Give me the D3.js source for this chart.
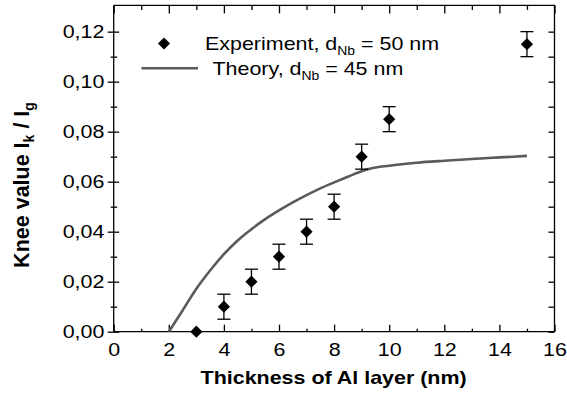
<!DOCTYPE html>
<html>
<head>
<meta charset="utf-8">
<script src="https://cdn.jsdelivr.net/npm/d3@7"></script>
<style>
    body { margin: 0; background: #fff; }
    svg { display: block; font-family: "Liberation Sans", Arial, sans-serif; }
</style>
</head>
<body>
<div id="chart"></div>
<script>
// experiment points (d_Nb = 50 nm)
const expX = [3, 4, 5, 6, 7, 8, 9, 10, 15];
const expY = [0, 0.01, 0.02, 0.03, 0.04, 0.05, 0.07, 0.085, 0.115];
const expErr = [0, 0.005, 0.005, 0.005, 0.005, 0.005, 0.005, 0.005, 0.005];

// theory curve (d_Nb = 45 nm)
const theoryX = [2, 2.5, 3, 3.5, 4, 4.5, 5, 5.5, 6, 6.5, 7, 7.5, 8, 8.5, 9, 9.3, 10, 11, 12, 13, 14, 15];
const theoryY = [0, 0.0085, 0.0172, 0.0245, 0.031, 0.0365, 0.041, 0.045, 0.0485, 0.0517, 0.0546, 0.0573, 0.0597, 0.062, 0.0642, 0.0652, 0.0664, 0.0676, 0.0684, 0.0691, 0.0697, 0.0703];

const xTicks = [0, 2, 4, 6, 8, 10, 12, 14, 16];
const xMinor = [1, 3, 5, 7, 9, 11, 13, 15];
const yTicks = [0, 0.02, 0.04, 0.06, 0.08, 0.10, 0.12];
const yMinor = [0.01, 0.03, 0.05, 0.07, 0.09, 0.11];

const width = 567, height = 401;
const pLeft = 113.7, pRight = 554.5, pBottom = 331.7, pTop = 5.4;
const sx = 1.16; // glyphs in the reference are stretched horizontally
const fmt = d => d3.format('.2f')(d).replace('.', ',');

const svg = d3.select('#chart').append('svg')
    .attr('width', width)
    .attr('height', height);

const x = d3.scaleLinear().domain([0, 16]).range([pLeft, pRight]);
const y = d3.scaleLinear().domain([0, 0.1305]).range([pBottom, pTop]);

// frame: top and right
svg.append('path')
    .attr('d', `M${pLeft},${pTop}H${pRight}V${pBottom}`)
    .attr('fill', 'none')
    .attr('stroke', '#000')
    .attr('stroke-width', 1.3);

// top ticks (inward)
svg.append('g').attr('transform', `translate(0,${pTop})`)
    .call(d3.axisTop(x).tickValues(xTicks).tickSize(-8).tickFormat(''))
    .call(g => g.select('.domain').remove());
svg.append('g').attr('transform', `translate(0,${pTop})`)
    .call(d3.axisTop(x).tickValues(xMinor).tickSize(-4.5).tickFormat(''))
    .call(g => g.select('.domain').remove());

// right ticks (inward)
svg.append('g').attr('transform', `translate(${pRight},0)`)
    .call(d3.axisRight(y).tickValues(yTicks.concat(yMinor)).tickSize(-6).tickFormat(''))
    .call(g => g.select('.domain').remove());

// bottom axis
const xAxis = svg.append('g').attr('transform', `translate(0,${pBottom})`)
    .call(d3.axisBottom(x).tickValues(xTicks).tickSize(0).tickPadding(11).tickFormat(d3.format('d')));
xAxis.select('.domain').attr('d', `M${pLeft},0H${pRight}`);
xAxis.selectAll('.tick line').attr('y2', -7);
svg.append('g').attr('transform', `translate(0,${pBottom})`)
    .call(d3.axisBottom(x).tickValues(xMinor).tickSize(-3).tickFormat(''))
    .call(g => g.select('.domain').remove());

// left axis
const yAxis = svg.append('g').attr('transform', `translate(${pLeft},0)`)
    .call(d3.axisLeft(y).tickValues(yTicks).tickSize(6).tickPadding(2).tickFormat(fmt));
yAxis.select('.domain').attr('d', `M0,${pTop}V${pBottom}`);
yAxis.selectAll('.tick line').attr('x1', 5.5);
svg.append('g').attr('transform', `translate(${pLeft},0)`)
    .call(d3.axisLeft(y).tickValues(yMinor).tickSize(3).tickFormat(''))
    .call(g => g.select('.domain').remove())
    .call(g => g.selectAll('.tick line').attr('x1', 3.5));

svg.selectAll('.domain, .tick line').attr('stroke', '#000').attr('stroke-width', 1.3);
svg.selectAll('.tick text')
    .attr('font-size', 18.5)
    .attr('font-family', '"Liberation Sans", Arial, sans-serif')
    .attr('fill', '#000')
    .attr('transform', `scale(${sx},1)`);

// theory line
const line = d3.line()
    .x((d, i) => x(theoryX[i]))
    .y(d => y(d))
    .curve(d3.curveMonotoneX);

svg.append('path')
    .datum(theoryY)
    .attr('d', line)
    .attr('fill', 'none')
    .attr('stroke', '#5a5a5a')
    .attr('stroke-width', 2.6);

// experiment: error bars + diamonds
const pts = expX.map((v, i) => ({ x: v, y: expY[i], e: expErr[i] }));
const diamond = d3.symbol().type(d3.symbolDiamond2).size(95);

const errs = svg.append('g').selectAll('g')
    .data(pts.filter(d => d.e > 0))
    .enter().append('g')
    .attr('stroke', '#000')
    .attr('stroke-width', 1.3);
errs.append('line')
    .attr('x1', d => x(d.x)).attr('x2', d => x(d.x))
    .attr('y1', d => y(d.y - d.e)).attr('y2', d => y(d.y + d.e));
errs.append('line')
    .attr('x1', d => x(d.x) - 6.5).attr('x2', d => x(d.x) + 6.5)
    .attr('y1', d => y(d.y - d.e)).attr('y2', d => y(d.y - d.e));
errs.append('line')
    .attr('x1', d => x(d.x) - 6.5).attr('x2', d => x(d.x) + 6.5)
    .attr('y1', d => y(d.y + d.e)).attr('y2', d => y(d.y + d.e));

svg.append('g').selectAll('path')
    .data(pts)
    .enter().append('path')
    .attr('d', diamond)
    .attr('transform', d => `translate(${x(d.x)},${y(d.y)})`)
    .attr('fill', '#000');

// legend
svg.append('path')
    .attr('d', diamond)
    .attr('transform', 'translate(164,43.5)')
    .attr('fill', '#000');
svg.append('line')
    .attr('x1', 141.5).attr('x2', 198)
    .attr('y1', 68.3).attr('y2', 68.3)
    .attr('stroke', '#5a5a5a')
    .attr('stroke-width', 2.6);

function legendText(tx, ty, main, sub, rest) {
    const t = svg.append('text')
        .attr('transform', `translate(${tx},${ty}) scale(${sx},1)`)
        .attr('font-size', 18.5)
        .attr('fill', '#000');
    t.append('tspan').text(main);
    t.append('tspan').attr('font-size', 12).attr('dy', 5).text(sub);
    t.append('tspan').attr('dy', -5).text(rest);
}
legendText(205, 49.5, 'Experiment, d', 'Nb', ' = 50 nm');
legendText(212.5, 75, 'Theory, d', 'Nb', ' = 45 nm');

// axis titles
svg.append('text')
    .attr('transform', `translate(${(pLeft + pRight) / 2 - 0.5},383.5) scale(${sx},1)`)
    .attr('text-anchor', 'middle')
    .attr('font-size', 18.5)
    .attr('font-weight', 'bold')
    .text('Thickness of Al layer (nm)');

const yl = svg.append('text')
    .attr('transform', 'translate(28.5,185) rotate(-90)')
    .attr('text-anchor', 'middle')
    .attr('font-size', 21.5)
    .attr('font-weight', 'bold');
yl.append('tspan').text('Knee value I');
yl.append('tspan').attr('font-size', 14).attr('dy', 5.5).text('k');
yl.append('tspan').attr('dy', -5.5).text(' / I');
yl.append('tspan').attr('font-size', 14).attr('dy', 5.5).text('g');
</script>
</body>
</html>
